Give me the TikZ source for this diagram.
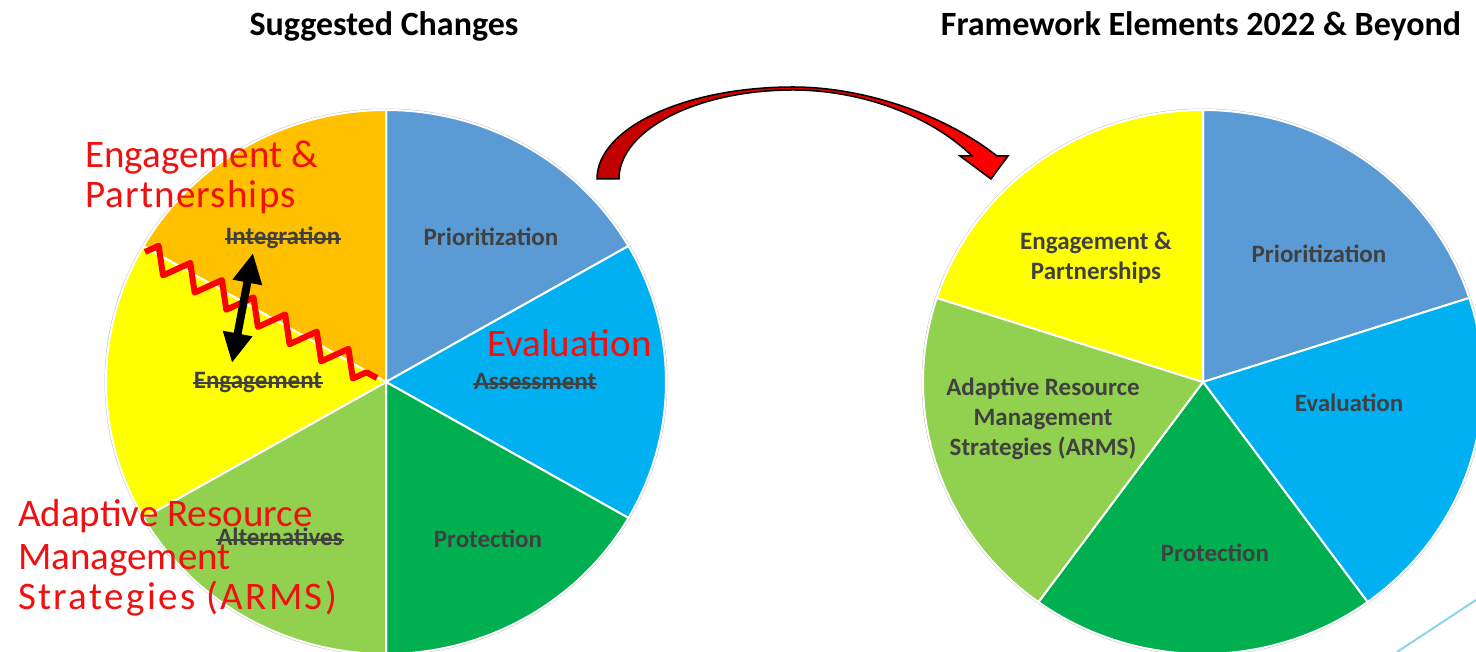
\documentclass[tikz,border=0pt]{standalone}
\usepackage{fontspec}
\setmainfont{Carlito}
\usetikzlibrary{arrows.meta,decorations.pathmorphing,calc}
\definecolor{cPrio}{HTML}{5B9BD5}
\definecolor{cEval}{HTML}{00B0F0}
\definecolor{cProt}{HTML}{00B050}
\definecolor{cArms}{HTML}{92D050}
\definecolor{cEng}{HTML}{FFFF00}
\definecolor{cInt}{HTML}{FFC000}
\definecolor{cText}{HTML}{404040}
\definecolor{cDarkRed}{HTML}{C00000}
\definecolor{cHand}{HTML}{F01010}
\definecolor{cLine}{HTML}{8DD3F0}
\newcommand\myslice[4]{%
  \filldraw[slicestyle, fill=#4] (#1) -- ($(#1)+(#2:280 and 272)$)
    arc[start angle=#2, end angle=#3, x radius=280, y radius=272] -- cycle;}
\begin{document}
\begin{tikzpicture}[x=1pt,y=1pt,
  lbl/.style={font=\bfseries\fontsize{25}{30}\selectfont, text=cText, inner sep=0pt, align=center},
  hand/.style={font=\fontsize{39}{40}\selectfont, text=cHand, inner sep=0pt, anchor=base west},
  title/.style={font=\bfseries\fontsize{34}{40}\selectfont, text=black, inner sep=0pt},
  strike/.style={draw=cText, line width=2pt},
  slicestyle/.style={draw=white, line width=2pt},
  rim/.style={draw=black!25, line width=0.8pt}]
\useasboundingbox (0,0) rectangle (1476,652);
\clip (0,0) rectangle (1476,652);
\fill[white] (0,0) rectangle (1476,652);

% titles
\node[title] (t1) at (384,626) {Suggested Changes};
\node[title] (t2) at (1201,626) {Framework Elements 2022 \& Beyond};

% left pie
\coordinate (L) at (386,270);
\draw[rim] (L) ellipse[x radius=281, y radius=273];
\myslice{L}{30}{90}{cPrio}
\myslice{L}{-30}{30}{cEval}
\myslice{L}{-90}{-30}{cProt}
\myslice{L}{-150}{-90}{cArms}
\myslice{L}{150}{210}{cEng}
\myslice{L}{90}{150}{cInt}

% right pie
\coordinate (R) at (1203,270);
\draw[rim] (R) ellipse[x radius=281, y radius=273];
\myslice{R}{18}{90}{cPrio}
\myslice{R}{-54}{18}{cEval}
\myslice{R}{-126}{-54}{cProt}
\myslice{R}{162}{234}{cArms}
\myslice{R}{90}{162}{cEng}

% left labels
\node[lbl] (lprio) at (491,415) {Prioritization};
\node[lbl] (lprot) at (488,113) {Protection};
\node[lbl, anchor=base] (lint) at (283,407) {Integration};
\node[lbl, anchor=base] (leng) at (258,263) {Engagement};
\node[lbl, anchor=base] (lass) at (535,262) {Assessment};
\node[lbl, anchor=base] (lalt) at (280,106) {Alternatives};
\foreach \n in {lint,leng,lass,lalt}{
  \draw[strike] ([xshift=-1pt,yshift=6pt]\n.base west) -- ([xshift=1pt,yshift=6pt]\n.base east);
}

% right labels
\node[lbl] (reng) at (1096,394) {Engagement \&\\Partnerships};
\node[lbl] (rprio) at (1319,398) {Prioritization};
\node[lbl] (reval) at (1349,249) {Evaluation};
\node[lbl] (rprot) at (1215,99) {Protection};
\node[lbl] (rarms) at (1043,233) {Adaptive Resource\\Management\\Strategies (ARMS)};

% red zigzag
\coordinate (zz1) at (145,400);
\coordinate (zz2) at (377,274);
\draw[red, line width=6pt, line join=round, decorate,
  decoration={zigzag, segment length=36pt, amplitude=12pt}] (zz1) -- (zz2);

% black double arrow
\coordinate (da1) at (253,399);
\coordinate (da2) at (232,289);
\draw[black, line width=8pt, {Triangle[width=28pt,length=30pt]}-{Triangle[width=28pt,length=30pt]}] (da1) -- (da2);

% red curved arrow
\draw[black, line width=1.5pt, left color=cDarkRed, right color=red]
  (597,473) .. controls (597,524) and (685,565) .. (793,565)
  .. controls (865,565) and (945,537) .. (997,496)
  -- (1008,496) -- (991,473) -- (960,496) -- (972,496)
  .. controls (930,537) and (860,562) .. (793,562)
  .. controls (697,562) and (619,522) .. (619,473) -- cycle;

% handwritten red annotations
\node[hand] (h1) at (85,484) {Engagement \&};
\node[hand] (h2) at (85,444) {\addfontfeatures{LetterSpace=3}Partnerships};
\node[hand] (h3) at (487,295) {Evaluation};
\node[hand] (h4) at (18,125) {Adaptive Resource};
\node[hand] (h5) at (18,82) {Management};
\node[hand] (h6) at (18,42) {\addfontfeatures{LetterSpace=6}Strategies (ARMS)};

% light blue line at bottom right
\coordinate (bl1) at (1397,0);
\coordinate (bl2) at (1476,52);
\draw[cLine, line width=2pt] (bl1) -- (bl2);
\end{tikzpicture}
\end{document}
